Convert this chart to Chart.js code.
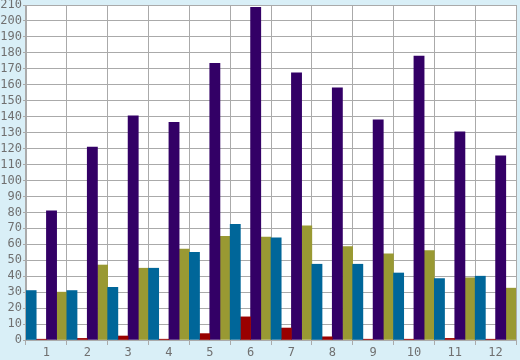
<!DOCTYPE html>
<html><head><meta charset="utf-8">
<script src="https://cdn.jsdelivr.net/npm/chart.js@4"></script>
<style>html,body{margin:0;padding:0;background:#d9eff7;}#c{display:block;}</style>
</head><body>
<canvas id="c" width="520" height="360"></canvas>
<script>
const categories = ['1','2','3','4','5','6','7','8','9','10','11','12'];
const seriesBlue   = [31, 31, 33, 45, 55, 72.5, 64, 47.5, 47.5, 42, 38.5, 40];
const seriesRed    = [0.5, 1, 2.5, 0.5, 4, 14.5, 7.5, 2, 0.5, 0.5, 1, 0.5];
const seriesPurple = [81, 121, 140.5, 136.5, 173.5, 208.5, 167.5, 158, 138, 178, 130.5, 115.5];
const seriesOlive  = [30, 47, 45, 57, 65, 64.5, 71.5, 58.5, 54, 56, 39, 32.5];
const yMax = 210, yStep = 10;

const bgPlugin = {
  id: 'bg',
  beforeDraw(chart) {
    const {ctx, chartArea: a} = chart;
    ctx.save();
    ctx.fillStyle = '#d9eff7';
    ctx.fillRect(0, 0, chart.width, chart.height);
    ctx.fillStyle = '#ffffff';
    ctx.fillRect(a.left, a.top, a.right - a.left, a.bottom - a.top);
    ctx.restore();
  }
};

const font = {family: 'DejaVu Sans Mono', size: 12};
new Chart(document.getElementById('c'), {
  type: 'bar',
  data: {
    labels: categories,
    datasets: [
      {data: seriesBlue, backgroundColor: '#006699'},
      {data: seriesRed, backgroundColor: '#990000'},
      {data: seriesPurple, backgroundColor: '#330066'},
      {data: seriesOlive, backgroundColor: '#999933'}
    ]
  },
  options: {
    responsive: false,
    animation: false,
    layout: {padding: {top: 5, right: 4, left: 0, bottom: 0}},
    datasets: {bar: {barPercentage: 1, categoryPercentage: 1, borderWidth: 0}},
    plugins: {legend: {display: false}, tooltip: {enabled: false}},
    scales: {
      x: {
        grid: {color: '#aaaaaa', lineWidth: 1, offset: true, tickLength: 5, drawOnChartArea: true},
        border: {color: '#aaaaaa'},
        ticks: {color: '#707070', font: font, padding: 1, maxRotation: 0, autoSkip: false},
        afterFit(s) { s.height = 20; s.paddingLeft = 0; s.paddingRight = 0; }
      },
      y: {
        min: 0, max: yMax,
        grid: {color: '#aaaaaa', lineWidth: 1, tickLength: 3},
        border: {color: '#aaaaaa'},
        ticks: {stepSize: yStep, color: '#707070', font: font, padding: 1, autoSkip: false},
        afterFit(s) { s.width = 26; s.paddingTop = 0; s.paddingBottom = 0; }
      }
    }
  },
  plugins: [bgPlugin]
});
</script>
</body></html>
